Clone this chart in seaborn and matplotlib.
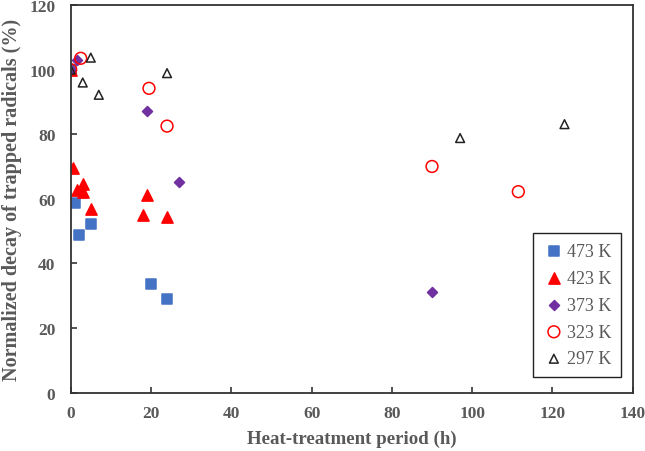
import pandas as pd
import seaborn as sns
import matplotlib.pyplot as plt

# heat-treatment period (h) and normalized decay (%) per temperature
x_473 = [0, 1, 2, 5, 20, 24]
y_473 = [100, 58.7, 48.8, 52.1, 33.5, 29.0]
x_423 = [0, 0.5, 1.5, 3, 3, 5, 18, 19, 24]
y_423 = [100, 69.5, 62.8, 64.5, 62.0, 56.8, 55.0, 61.3, 54.5]
x_373 = [0, 1.5, 19, 27, 90]
y_373 = [100, 103.0, 87.1, 65.2, 31.0]
x_323 = [0, 2.5, 19.5, 24, 90, 111.5]
y_323 = [100, 103.5, 94.2, 82.5, 70.0, 62.2]
x_297 = [0, 3, 5, 7, 24, 97, 123]
y_297 = [100, 96.0, 103.7, 92.2, 98.9, 78.8, 83.1]
x_ticks = [0, 20, 40, 60, 80, 100, 120, 140]
y_ticks = [0, 20, 40, 60, 80, 100, 120]

sns.set_style("ticks")
plt.rcParams["font.family"] = ["Liberation Serif", "DejaVu Serif"]
plt.rcParams["font.weight"] = "bold"

fig = plt.figure(figsize=(6.45, 4.52), dpi=100)
ax = fig.add_axes([0.1096, 0.1294, 0.8714, 0.8573])

series = [
    ("473 K", x_473, y_473, "s", "#4472C4", "#4472C4", 55),
    ("423 K", x_423, y_423, "^", "#FF0000", "#FF0000", 65),
    ("373 K", x_373, y_373, "D", "#7030A0", "#7030A0", 26),
    ("323 K", x_323, y_323, "o", "none", "#FF0000", 72),
    ("297 K", x_297, y_297, "^", "none", "#222222", 40),
]

for name, xs, ys, m, fc, ec, s in series:
    df = pd.DataFrame({"t": xs, "v": ys})
    sns.scatterplot(data=df, x="t", y="v", ax=ax, marker=m, s=s,
                    facecolor=fc, edgecolor=ec, linewidth=1.1, label=name)

ax.set_xlim(0, 140)
ax.set_ylim(0, 120)
ax.set_xticks(x_ticks)
ax.set_yticks(y_ticks)

grey = "#595959"
ax.tick_params(direction="in", length=4, width=1.2, color="#333333",
               labelsize=12.5, labelcolor=grey)
ax.tick_params(axis="x", pad=9)
ax.tick_params(axis="y", pad=11)
for sp in ax.spines.values():
    sp.set_color("#333333")
    sp.set_linewidth(1.3)

ax.set_xlabel("Heat-treatment period (h)", fontsize=13.6, fontweight="bold",
              color=grey, labelpad=6)
ax.set_ylabel("Normalized decay of trapped radicals (%)", fontsize=14.5,
              fontweight="bold", color=grey, labelpad=5)

leg = ax.legend(loc="lower right", bbox_to_anchor=(0.979, 0.039),
                fancybox=False, edgecolor="#222222", framealpha=1,
                fontsize=13, labelspacing=0.55, handletextpad=0.1,
                handlelength=1.2, borderpad=0.55, borderaxespad=0)
leg.get_frame().set_linewidth(1.0)
for t in leg.get_texts():
    t.set_color(grey)
    t.set_fontweight("normal")

fig.savefig("out.png", dpi=100)
